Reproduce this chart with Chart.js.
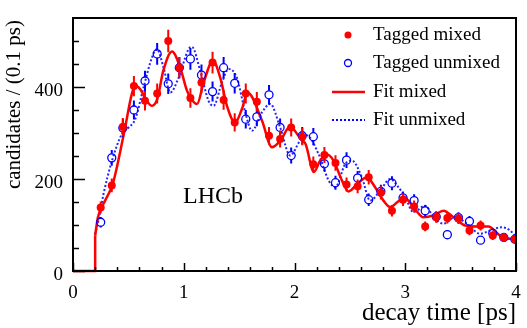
<!DOCTYPE html>
<html>
<head>
<meta charset="utf-8">
<script src="https://cdn.jsdelivr.net/npm/chart.js@4.4.0/dist/chart.umd.min.js"></script>
<style>
  html, body { margin: 0; padding: 0; background: #fff; }
</style>
</head>
<body>
<canvas id="decayChart" width="527" height="328"></canvas>
<script>
// bin centres [ps]
const times = [0.25, 0.35, 0.45, 0.55, 0.65, 0.76, 0.86, 0.96, 1.06, 1.16,
  1.26, 1.36, 1.46, 1.56, 1.66, 1.77, 1.87, 1.97, 2.07, 2.17,
  2.27, 2.37, 2.47, 2.57, 2.67, 2.78, 2.88, 2.98, 3.08, 3.18,
  3.28, 3.38, 3.48, 3.58, 3.68, 3.79, 3.89, 3.99];
// tagged mixed candidates
const mixed = [138, 186, 313, 402, 370, 386, 500, 442, 376, 410,
  453, 372, 323, 386, 368, 294, 287, 312, 292, 232,
  252, 235, 188, 184, 204, 170, 131, 155, 140, 97,
  117, 115, 114, 88, 99, 77, 73, 69];
// tagged unmixed candidates
const unmixed = [106, 246, 311, 350, 413, 472, 407, 442, 461, 426,
  390, 442, 408, 330, 335, 383, 312, 251, 294, 292,
  233, 192, 241, 202, 155, 173, 191, 159, 153, 131,
  118, 79, 116, 108, 67, 82, 73, 69];

// fit curves
const fitStepT = [0, 0.2, 0.2];
const fitStepV = [0, 0, 77];
const fitMixedT = [0.2, 0.225, 0.29, 0.36, 0.465, 0.53, 0.562, 0.607,
  0.661, 0.713, 0.761, 0.815, 0.894, 0.968, 1.029, 1.068, 1.12, 1.18,
  1.264, 1.33, 1.39, 1.465, 1.525, 1.576, 1.706, 1.796, 1.871,
  1.961, 2.036, 2.1, 2.175, 2.232, 2.293, 2.352, 2.428, 2.488, 2.563,
  2.653, 2.728, 2.803, 2.864, 2.93, 2.99, 3.074, 3.165, 3.255, 3.345,
  3.436, 3.541, 3.646, 3.751, 3.857, 3.947, 4.0];
const fitMixedV = [77, 117, 153, 190, 305, 384, 404, 395,
  372, 359, 374, 435, 477, 442, 392, 374, 363, 410,
  457, 420, 359, 323, 352, 388, 327, 269, 283,
  314, 294, 276, 215, 240, 253, 240, 197, 173, 188,
  204, 182, 153, 139, 150, 160, 139, 117, 121, 131,
  117, 99, 97, 97, 77, 70, 74];
const fitUnmixedT = [0.2, 0.23, 0.276, 0.352, 0.442, 0.502, 0.562, 0.637, 0.713, 0.758,
  0.818, 0.878, 0.953, 1.043, 1.074, 1.149, 1.224, 1.269, 1.345, 1.405,
  1.48, 1.555, 1.616, 1.706, 1.781, 1.871, 1.961, 2.05, 2.11, 2.218,
  2.308, 2.368, 2.458, 2.518, 2.608, 2.683, 2.774, 2.864, 2.939, 3.0,
  3.074, 3.18, 3.255, 3.345, 3.451, 3.556, 3.676, 3.766, 3.871, 3.947, 4.0];
const fitUnmixedV = [80, 110, 168, 240, 298, 312, 330, 399, 464, 482,
  442, 388, 420, 482, 487, 435, 370, 359, 410, 439,
  420, 345, 305, 345, 363, 312, 251, 283, 295, 254,
  197, 182, 233, 240, 204, 153, 175, 200, 182, 160,
  128, 142, 117, 103, 117, 103, 81, 88, 95, 88, 74];

const xTicks = [0, 1, 2, 3, 4];
const yTicks = [0, 200, 400];
const legendLabels = ['Tagged mixed', 'Tagged unmixed', 'Fit mixed', 'Fit unmixed'];

const RED = '#ff0000';
const BLUE = '#0000ff';
const SERIF = '"Liberation Serif", "DejaVu Serif", serif';

function pts(xs, ys) {
  return xs.map((x, i) => ({ x: x, y: ys[i] }));
}

// vertical error bars, drawn just before each point dataset
const errorBars = {
  id: 'errorBars',
  beforeDatasetDraw(chart, args) {
    const ds = chart.data.datasets[args.index];
    if (!ds.errorBars) return;
    const ctx = chart.ctx;
    const y = chart.scales.y;
    const area = chart.chartArea;
    ctx.save();
    ctx.beginPath();
    ctx.rect(area.left, area.top, area.right - area.left, area.bottom - area.top);
    ctx.clip();
    ctx.strokeStyle = ds.borderColor;
    ctx.lineWidth = 2;
    args.meta.data.forEach((el, i) => {
      const v = ds.data[i].y;
      const e = Math.sqrt(v) * 1.1;
      const top = y.getPixelForValue(v + e);
      const bot = y.getPixelForValue(v - e);
      const gap = ds.hollow ? ds.pointRadius : 0;
      ctx.beginPath();
      ctx.moveTo(el.x, top);
      ctx.lineTo(el.x, el.y - gap);
      ctx.moveTo(el.x, el.y + gap);
      ctx.lineTo(el.x, bot);
      ctx.stroke();
    });
    ctx.restore();
  }
};

// ROOT style frame, inward ticks, y title, legend and label
const decor = {
  id: 'decor',
  afterDraw(chart) {
    const ctx = chart.ctx;
    const a = chart.chartArea;
    const xs = chart.scales.x, ys = chart.scales.y;
    ctx.save();
    ctx.strokeStyle = '#000';
    ctx.lineWidth = 1.5;
    for (let i = 0; i <= 20; i++) {
      const px = Math.round(xs.getPixelForValue(i * 0.2)) + 0.5;
      const len = i % 5 === 0 ? 8 : 4;
      ctx.beginPath();
      ctx.moveTo(px, a.bottom);
      ctx.lineTo(px, a.bottom - len);
      ctx.stroke();
    }
    for (let i = 0; i <= 10; i++) {
      const py = Math.round(ys.getPixelForValue(i * 50)) + 0.5;
      const len = i % 4 === 0 ? 12 : 6;
      ctx.beginPath();
      ctx.moveTo(a.left, py);
      ctx.lineTo(a.left + len, py);
      ctx.stroke();
    }
    ctx.lineWidth = 2;
    ctx.strokeRect(a.left, a.top, a.right - a.left, a.bottom - a.top);

    // y axis title
    ctx.save();
    ctx.translate(14, 20);
    ctx.rotate(-Math.PI / 2);
    ctx.font = '21px ' + SERIF;
    ctx.fillStyle = '#000';
    ctx.textAlign = 'right';
    ctx.textBaseline = 'middle';
    ctx.fillText('candidates / (0.1 ps)', 0, 0);
    ctx.restore();

    // legend
    ctx.font = '19px ' + SERIF;
    ctx.fillStyle = '#000';
    ctx.textBaseline = 'middle';
    ctx.textAlign = 'left';
    const rows = [35, 63, 92, 120];
    legendLabels.forEach((t, i) => ctx.fillText(t, 373, rows[i]));
    ctx.fillStyle = RED;
    ctx.beginPath();
    ctx.arc(348, rows[0], 3.5, 0, Math.PI * 2);
    ctx.fill();
    ctx.strokeStyle = BLUE;
    ctx.lineWidth = 1.3;
    ctx.beginPath();
    ctx.arc(348, rows[1], 3.5, 0, Math.PI * 2);
    ctx.stroke();
    ctx.strokeStyle = RED;
    ctx.lineWidth = 2.5;
    ctx.beginPath();
    ctx.moveTo(332, rows[2]);
    ctx.lineTo(365, rows[2]);
    ctx.stroke();
    ctx.strokeStyle = BLUE;
    ctx.lineWidth = 2;
    ctx.setLineDash([2, 2]);
    ctx.beginPath();
    ctx.moveTo(332, rows[3]);
    ctx.lineTo(365, rows[3]);
    ctx.stroke();
    ctx.setLineDash([]);

    ctx.fillStyle = '#000';
    ctx.font = '24px ' + SERIF;
    ctx.textBaseline = 'alphabetic';
    ctx.fillText('LHCb', 183, 203);
    ctx.restore();
  }
};

const config = {
  type: 'scatter',
  data: {
    datasets: [
      {
        label: legendLabels[1],
        data: pts(times, unmixed),
        errorBars: true,
        hollow: true,
        pointRadius: 4,
        pointBorderWidth: 1.3,
        borderColor: BLUE,
        pointBorderColor: BLUE,
        pointBackgroundColor: 'rgba(0,0,0,0)',
        order: 2,
      },
      {
        label: legendLabels[0],
        data: pts(times, mixed),
        errorBars: true,
        pointRadius: 4,
        pointBorderWidth: 0,
        borderColor: RED,
        pointBackgroundColor: RED,
        order: 1,
      },
      {
        type: 'line',
        label: legendLabels[3],
        data: pts(fitUnmixedT, fitUnmixedV),
        borderColor: '#2323ff',
        borderWidth: 2,
        borderDash: [2, 2],
        pointRadius: 0,
        cubicInterpolationMode: 'monotone',
        order: 5,
      },
      {
        type: 'line',
        label: legendLabels[2],
        data: pts(fitMixedT, fitMixedV),
        borderColor: RED,
        borderWidth: 2.5,
        pointRadius: 0,
        cubicInterpolationMode: 'monotone',
        order: 3,
      },
      {
        type: 'line',
        label: 'step',
        data: pts(fitStepT, fitStepV),
        borderColor: RED,
        borderWidth: 2.5,
        pointRadius: 0,
        tension: 0,
        clip: 3,
        order: 4,
      },
    ],
  },
  options: {
    responsive: false,
    animation: false,
    devicePixelRatio: 1,
    layout: { padding: { left: 0, top: 18, right: 11, bottom: 0 } },
    plugins: { legend: { display: false }, tooltip: { enabled: false } },
    scales: {
      x: {
        type: 'linear',
        min: 0,
        max: 4,
        afterBuildTicks: (s) => { s.ticks = xTicks.map(v => ({ value: v })); },
        afterFit: (s) => { s.height = 57; },
        grid: { display: false },
        border: { display: false },
        ticks: { padding: 3, color: '#000', font: { family: SERIF, size: 19 } },
        title: {
          display: true,
          text: 'decay time [ps]',
          align: 'end',
          color: '#000',
          padding: { top: 0, bottom: 0 },
          font: { family: SERIF, size: 25 },
        },
      },
      y: {
        type: 'linear',
        min: 0,
        max: 550,
        afterBuildTicks: (s) => { s.ticks = yTicks.map(v => ({ value: v })); },
        afterFit: (s) => { s.width = 73; },
        grid: { display: false },
        border: { display: false },
        ticks: { padding: 2, labelOffset: 4, color: '#000', font: { family: SERIF, size: 19 } },
        title: { display: false },
      },
    },
  },
  plugins: [errorBars, decor],
};

var decayChart = new Chart(document.getElementById('decayChart'), config);
</script>
</body>
</html>
